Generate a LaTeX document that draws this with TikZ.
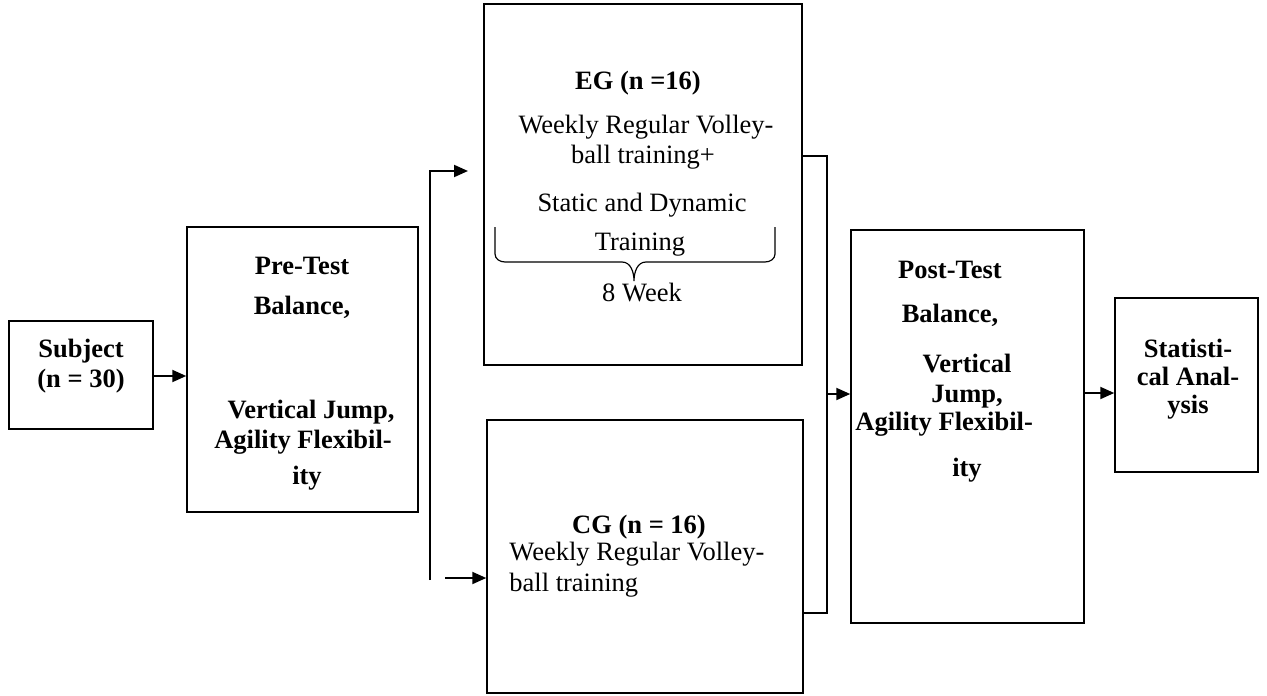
\documentclass[tikz,border=0pt]{standalone}
\usepackage{fontspec}
\setmainfont{Liberation Serif}
\usetikzlibrary{arrows.meta}
\usetikzlibrary{calc}

\begin{document}
\begin{tikzpicture}[x=0.5pt,y=-0.5pt,>={Triangle[length=7pt,width=6pt]},
doboz/.style={rectangle,draw=black,line width=.75pt,inner sep=0pt},
felirat/.style={inner sep=0pt,anchor=base,font=\fontsize{13.25}{15}\selectfont},
vastag/.style={felirat,font=\fontsize{13.25}{15}\selectfont\bfseries}]

\useasboundingbox (0,0) rectangle (1267,695);

% dobozok
\node[doboz,minimum width=72pt,minimum height=54pt](subject) at (81,375){};
\node[doboz,minimum width=115.5pt,minimum height=142.5pt](pretest) at (302.5,369.5){};
\node[doboz,minimum width=159pt,minimum height=180.5pt](eg) at (643,184.5){};
\node[doboz,minimum width=158pt,minimum height=136.5pt](cg) at (645,556.5){};
\node[doboz,minimum width=116.5pt,minimum height=196.5pt](posttest) at (967.5,426.5){};
\node[doboz,minimum width=71.5pt,minimum height=87pt](stat) at (1186.5,385){};

% feliratok
\node[vastag](subject-1) at (81,357){Subject};
\node[vastag](subject-2) at (81,387){(n = 30)};

\node[vastag](pre-1) at (302,274){Pre-Test};
\node[vastag](pre-2) at (302,314){Balance,};
\node[vastag](pre-3) at (311,418){Vertical Jump,};
\node[vastag](pre-4) at (303,448){Agility Flexibil-};
\node[vastag](pre-5) at (307,484){ity};

\node[vastag](eg-1) at (638,90){EG (n =16)};
\node[felirat](eg-2) at (646,134){Weekly Regular Volley-};
\node[felirat](eg-3) at (643,164){ball training+};
\node[felirat](eg-4) at (642,212){Static and Dynamic};
\node[felirat](eg-5) at (640,250){Training};
\node[felirat](eg-6) at (642,301){8 Week};

\node[vastag](cg-1) at (639,533){CG (n = 16)};
\node[felirat,anchor=base west](cg-2) at (509,560){Weekly Regular Volley-};
\node[felirat,anchor=base west](cg-3) at (509,591){ball training};

\node[vastag](post-1) at (950,278){Post-Test};
\node[vastag](post-2) at (950,322){Balance,};
\node[vastag](post-3) at (967,372){Vertical};
\node[vastag](post-4) at (967,402){Jump,};
\node[vastag,anchor=base west](post-5) at (855,430){Agility Flexibil-};
\node[vastag](post-6) at (967,476){ity};

\node[vastag](stat-1) at (1188,357){Statisti-};
\node[vastag](stat-2) at (1188,385){cal Anal-};
\node[vastag](stat-3) at (1188,413){ysis};

% kapcsos zarojel
\draw[line width=.6pt] (495,227) -- (495,254) to[out=-90,in=180] (505,262) -- (622,262)
  to[out=0,in=90] (634,281) to[out=90,in=180] (646,262) -- (765,262)
  to[out=0,in=-90] (775,254) -- (775,227);

% vonalak
\coordinate (bus-top) at (430,171);
\coordinate (bus-bottom) at (430,580);
\coordinate (eg-in) at (468,171);
\coordinate (cg-from) at (445,578);
\coordinate (join-top) at (827,156);
\coordinate (join-bottom) at (827,613);
\coordinate (join-mid) at (827,394);
\coordinate (stat-from) at (posttest.east |- 0,393);

\begin{scope}[->, line width=1pt]
\draw (subject.east |- 0,376)--(pretest.west |- 0,376);
\draw (bus-bottom)--(bus-top)--(eg-in);
\draw (cg-from)--(cg-from -| cg.west);
\draw (join-mid)--(join-mid -| posttest.west);
\draw (stat-from)--(stat-from -| stat.west);
\end{scope}
\draw[line width=.75pt] (join-top -| eg.east)--(join-top)--(join-bottom)--(join-bottom -| cg.east);

\end{tikzpicture}
\end{document}
